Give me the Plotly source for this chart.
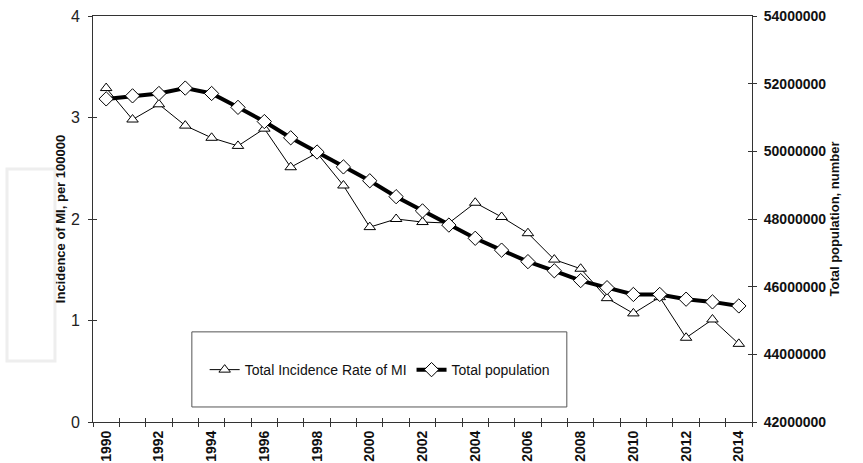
import plotly.graph_objects as go

years = list(range(1990, 2015))
mi_rate = [3.29, 2.98, 3.13, 2.92, 2.80, 2.72, 2.89, 2.51, 2.65, 2.33, 1.92, 2.00, 1.97,
           1.96, 2.16, 2.02, 1.86, 1.60, 1.51, 1.22, 1.07, 1.23, 0.83, 1.01, 0.77]
population = [51550000, 51640000, 51710000, 51870000, 51710000, 51300000, 50880000,
              50400000, 49980000, 49540000, 49130000, 48660000, 48240000, 47820000,
              47430000, 47080000, 46740000, 46470000, 46180000, 45970000, 45770000,
              45770000, 45630000, 45550000, 45430000]
x_labels = [str(y) for y in range(1990, 2015, 2)]
left_ticks = [0, 1, 2, 3, 4]
right_ticks = [42000000, 44000000, 46000000, 48000000, 50000000, 52000000, 54000000]

FONT = "Liberation Sans, Arial, sans-serif"
AX = "#333333"

fig = go.Figure()
fig.add_trace(go.Scatter(
    x=years, y=mi_rate, name="Total Incidence Rate of MI", mode="lines+markers",
    line=dict(color="black", width=1),
    marker=dict(symbol="triangle-up", size=10, color="white", line=dict(color="black", width=1)),
    yaxis="y", xaxis="x"))
fig.add_trace(go.Scatter(
    x=years, y=population, name="Total population", mode="lines+markers",
    line=dict(color="black", width=4),
    marker=dict(symbol="diamond", size=11, color="white", line=dict(color="black", width=1)),
    yaxis="y2", xaxis="x"))
# empty helper traces so the overlay tick axes get drawn
fig.add_trace(go.Scatter(x=[], y=[], xaxis="x2", yaxis="y3", showlegend=False, hoverinfo="skip"))
fig.add_trace(go.Scatter(x=[], y=[], xaxis="x2", yaxis="y4", showlegend=False, hoverinfo="skip"))

xr = [min(years) - 0.5, max(years) + 0.5]

fig.update_layout(
    width=863, height=463,
    margin=dict(l=93, r=111, t=16, b=41),
    paper_bgcolor="white", plot_bgcolor="white",
    font=dict(family=FONT, color="#111111"),
    showlegend=True,
    legend=dict(orientation="h", x=0.435, y=0.128, xanchor="center", yanchor="middle",
                font=dict(size=14, family=FONT, color="#111111"), bgcolor="rgba(0,0,0,0)",
                itemwidth=30, tracegroupgap=0),
    xaxis=dict(range=xr, tickmode="array", tickvals=[int(s) for s in x_labels], ticktext=x_labels,
               ticks="", tickangle=-90, showline=True, linecolor=AX, linewidth=1, mirror=True,
               showgrid=False, zeroline=False, automargin=False, ticklabelstandoff=2,
               tickfont=dict(size=14, family=FONT, weight="bold", color="#111111"),
               minor=dict(tick0=1989.5, dtick=1, ticks="outside", ticklen=4, tickcolor=AX, showgrid=False)),
    xaxis2=dict(range=xr, overlaying="x", anchor="y", tick0=1989.5, dtick=1, ticks="inside",
                ticklen=4, tickcolor=AX, showticklabels=False, showline=False, showgrid=False,
                zeroline=False, automargin=False),
    yaxis=dict(range=[0, 4], tickvals=left_ticks, ticks="outside", ticklen=4, tickcolor=AX,
               showline=True, linecolor=AX, linewidth=1, showgrid=False, zeroline=False,
               automargin=False, ticklabelstandoff=5,
               tickfont=dict(size=16, family=FONT, color="#222222"),
               title=dict(text="Incidence of MI, per 100000", standoff=2,
                          font=dict(size=13, family=FONT, weight="bold", color="#111111"))),
    yaxis2=dict(range=[42000000, 54000000], tickvals=right_ticks, tickformat="d",
                overlaying="y", side="right", anchor="x", ticks="outside", ticklen=4, tickcolor=AX,
                showline=True, linecolor=AX, linewidth=1, showgrid=False, zeroline=False,
                automargin=False, ticklabelstandoff=4,
                tickfont=dict(size=14, family=FONT, weight="bold", color="#111111"),
                title=dict(text="Total population, number", standoff=4,
                           font=dict(size=13, family=FONT, weight="bold", color="#111111"))),
    yaxis3=dict(range=[0, 4], tickvals=left_ticks, overlaying="y", side="left", anchor="x2",
                ticks="inside", ticklen=4, tickcolor=AX, showticklabels=False, showline=False,
                showgrid=False, zeroline=False, automargin=False),
    yaxis4=dict(range=[42000000, 54000000], tickvals=right_ticks, overlaying="y", side="right",
                anchor="x2", ticks="inside", ticklen=4, tickcolor=AX, showticklabels=False,
                showline=False, showgrid=False, zeroline=False, automargin=False),
    shapes=[
        dict(type="rect", xref="paper", yref="paper", x0=0.150, x1=0.719, y0=0.037, y1=0.222,
             line=dict(color="#555555", width=1), fillcolor="rgba(0,0,0,0)", layer="below"),
        dict(type="rect", xref="paper", yref="paper", x0=-0.1305, x1=-0.0577, y0=0.150, y1=0.623,
             line=dict(color="#eeeeee", width=3), fillcolor="rgba(0,0,0,0)", layer="below"),
    ],
)

fig.write_html("out.html", config={"displayModeBar": False},
               post_script="document.body.style.margin='0';")
